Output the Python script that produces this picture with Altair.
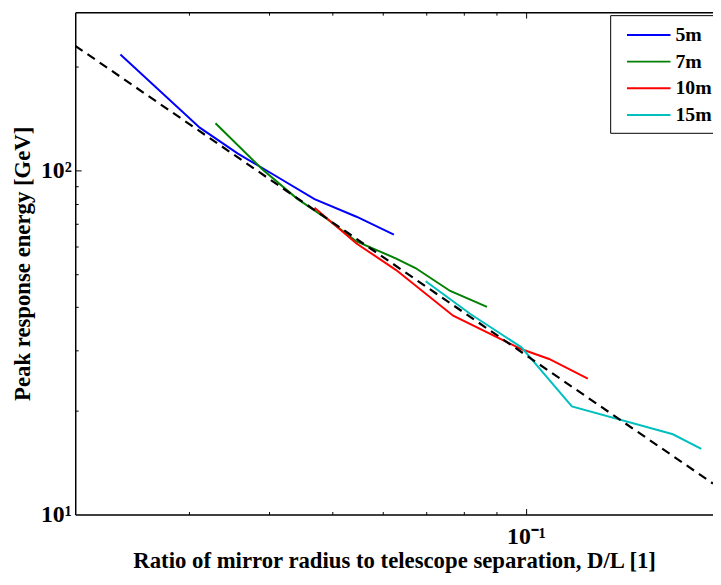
import altair as alt
import pandas as pd

# ---- data ----
series = ["5m", "7m", "10m", "15m"]
colors = ["#0000ff", "#008000", "#ff0000", "#00bfbf"]

x_5m = [0.0235, 0.0312, 0.0357, 0.0405, 0.0470, 0.0546, 0.0624]
y_5m = [217, 133, 112, 97.4, 82.5, 73.3, 65.0]

x_7m = [0.0330, 0.0390, 0.0442, 0.0491, 0.0546, 0.0628, 0.0674, 0.0763, 0.0870]
y_7m = [137, 100.7, 82.6, 72.3, 62.1, 55.5, 52.0, 44.6, 40.1]

x_10m = [0.0470, 0.0546, 0.0629, 0.0771, 0.0985, 0.1086, 0.1247]
y_10m = [77.8, 61.3, 51.3, 37.8, 30.2, 28.3, 24.8]

x_15m = [0.0699, 0.0819, 0.0984, 0.1178, 0.1690, 0.1870]
y_15m = [47.6, 38.3, 30.6, 20.6, 17.1, 15.5]

x_fit = [0.02, 0.195]
y_fit = [230, 12.3]

minor_x = [0.03, 0.04, 0.05, 0.06, 0.07, 0.08, 0.09]
major_x = [0.1]
minor_y = [20, 30, 40, 50, 60, 70, 80, 90, 200]
major_y = [10, 100]

rows = []
for name, xs_, ys_ in [("5m", x_5m, y_5m), ("7m", x_7m, y_7m),
                       ("10m", x_10m, y_10m), ("15m", x_15m, y_15m)]:
    for a, b in zip(xs_, ys_):
        rows.append({"x": a, "y": b, "series": name})
df = pd.DataFrame(rows)
fit = pd.DataFrame({"x": x_fit, "y": y_fit})

W, H = 645, 508
FONT = "Liberation Serif"

xscale = alt.Scale(type="log", domain=[0.02, 0.195], nice=False)
yscale = alt.Scale(type="log", domain=[10, 288], nice=False)

lines = alt.Chart(df).mark_line(strokeWidth=2, clip=True).encode(
    x=alt.X("x:Q", scale=xscale, axis=alt.Axis(
        orient="bottom", values=major_x, labelExpr="'10⁻¹'", ticks=False, grid=False,
        domainColor="black", domainWidth=1.5, labelFont=FONT, labelFontWeight="bold",
        labelFontSize=24, labelColor="black", labelPadding=10,
        title="Ratio of mirror radius to telescope separation, D/L [1]",
        titleFont=FONT, titleFontSize=23, titleFontWeight="bold", titleColor="black",
        titlePadding=2)),
    y=alt.Y("y:Q", scale=yscale, axis=alt.Axis(
        orient="left", values=major_y,
        labelExpr="datum.value == 10 ? '10¹' : '10²'", ticks=False, grid=False,
        domainColor="black", domainWidth=1.5, labelFont=FONT, labelFontWeight="bold",
        labelFontSize=24, labelColor="black", labelPadding=4,
        title="Peak response energy [GeV]", titleFont=FONT, titleFontSize=23,
        titleFontWeight="bold", titleColor="black", titlePadding=6)),
    color=alt.Color("series:N", scale=alt.Scale(domain=series, range=colors),
                    legend=alt.Legend(
                        orient="none", legendX=541, legendY=3, title=None,
                        symbolType="M-2,0H2", symbolSize=484, symbolStrokeWidth=2,
                        symbolOffset=19,
                        labelFont=FONT, labelFontSize=20, labelFontWeight="bold",
                        labelColor="black", strokeColor="black", fillColor="white",
                        padding=8, rowPadding=5, labelOffset=15, cornerRadius=0)),
)

fitline = alt.Chart(fit).mark_line(color="black", strokeWidth=2.2, strokeDash=[9, 6], clip=True)

# inward minor ticks at bottom and left
l2 = fitline.encode(
    x=alt.X("x:Q", scale=xscale, axis=alt.Axis(
        orient="top", offset=-H, values=minor_x, labels=False, domain=False,
        grid=False, tickSize=3, tickColor="black", tickWidth=1, title=None)),
    y=alt.Y("y:Q", scale=yscale, axis=alt.Axis(
        orient="right", offset=-W, values=minor_y, labels=False, domain=False,
        grid=False, tickSize=3, tickColor="black", tickWidth=1, title=None)),
)
# inward major ticks at bottom and left
l3 = fitline.mark_line(opacity=0).encode(
    x=alt.X("x:Q", scale=xscale, axis=alt.Axis(
        orient="top", offset=-H, values=major_x, labels=False, domain=False,
        grid=False, tickSize=6, tickColor="black", tickWidth=1, title=None)),
    y=alt.Y("y:Q", scale=yscale, axis=alt.Axis(
        orient="right", offset=-W, values=[100], labels=False, domain=False,
        grid=False, tickSize=6, tickColor="black", tickWidth=1, title=None)),
)
# top frame with inward ticks
l4 = fitline.mark_line(opacity=0).encode(
    x=alt.X("x:Q", scale=xscale, axis=alt.Axis(
        orient="bottom", offset=-H, values=minor_x, labels=False, domain=True,
        domainColor="black", domainWidth=1.5,
        grid=False, tickSize=3, tickColor="black", tickWidth=1, title=None)),
    y=alt.Y("y:Q", scale=yscale, axis=None),
)
l5 = fitline.mark_line(opacity=0).encode(
    x=alt.X("x:Q", scale=xscale, axis=alt.Axis(
        orient="bottom", offset=-H, values=major_x, labels=False, domain=False,
        grid=False, tickSize=6, tickColor="black", tickWidth=1, title=None)),
    y=alt.Y("y:Q", scale=yscale, axis=None),
)

chart = alt.layer(lines, l2, l3, l4, l5).resolve_axis(
    x="independent", y="independent"
).properties(
    width=W, height=H,
    autosize=alt.AutoSizeParams(type="none"),
    padding={"left": 68, "top": 1, "right": 0, "bottom": 60},
    background="white",
).configure_view(stroke=None)

chart.save("out.html", embed_options={"renderer": "svg", "actions": False})
